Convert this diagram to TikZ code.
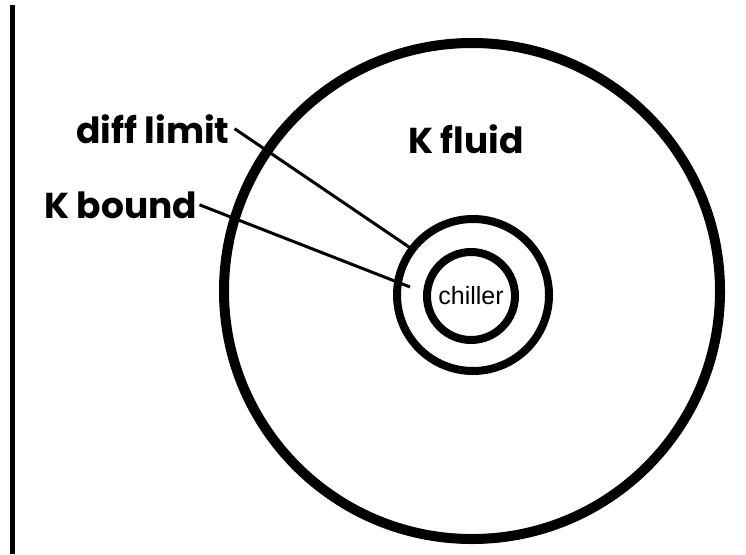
\documentclass[tikz,border=0pt]{standalone}
\usepackage{fontspec}
\usepackage{tikz}
\newfontfamily\labelfont{Poppins}
\newfontfamily\chillerfont{Liberation Sans}

\begin{document}
\begin{tikzpicture}[x=1pt, y=-1pt,
    ring/.style={circle, draw, inner sep=0pt, outer sep=0pt},
    zonelabel/.style={anchor=base west, inner sep=0pt, font=\labelfont\bfseries\fontsize{36}{40}\selectfont},
    leader/.style={line width=3pt}]
    \useasboundingbox (0,0) rectangle (746,554);

    % wall on the left
    \draw[line width=5pt] (12.5,5) -- (12.5,554);

    % rings, from outside to inside
    \node[ring, line width=10pt, minimum size=496pt] (fluid) at (472,291) {};
    \node[ring, line width=8pt, minimum size=152pt] (limit) at (473,295) {};
    \node[ring, line width=8pt, minimum size=88pt,
          font=\chillerfont\fontsize{25}{28}\selectfont] (chiller) at (471,296) {chiller};

    % labels
    \node[zonelabel] (fluidlabel) at (408,153) {K fluid};
    \node[zonelabel] (difflabel) at (76,143) {diff limit};
    \node[zonelabel] (boundlabel) at (44,218) {K bound};

    % leader lines
    \coordinate (boundend) at (410,287);
    \draw[leader] ([xshift=5pt]difflabel.east) -- (limit.143);
    \draw[leader] ([xshift=2pt]boundlabel.east) -- (boundend);
\end{tikzpicture}
\end{document}
